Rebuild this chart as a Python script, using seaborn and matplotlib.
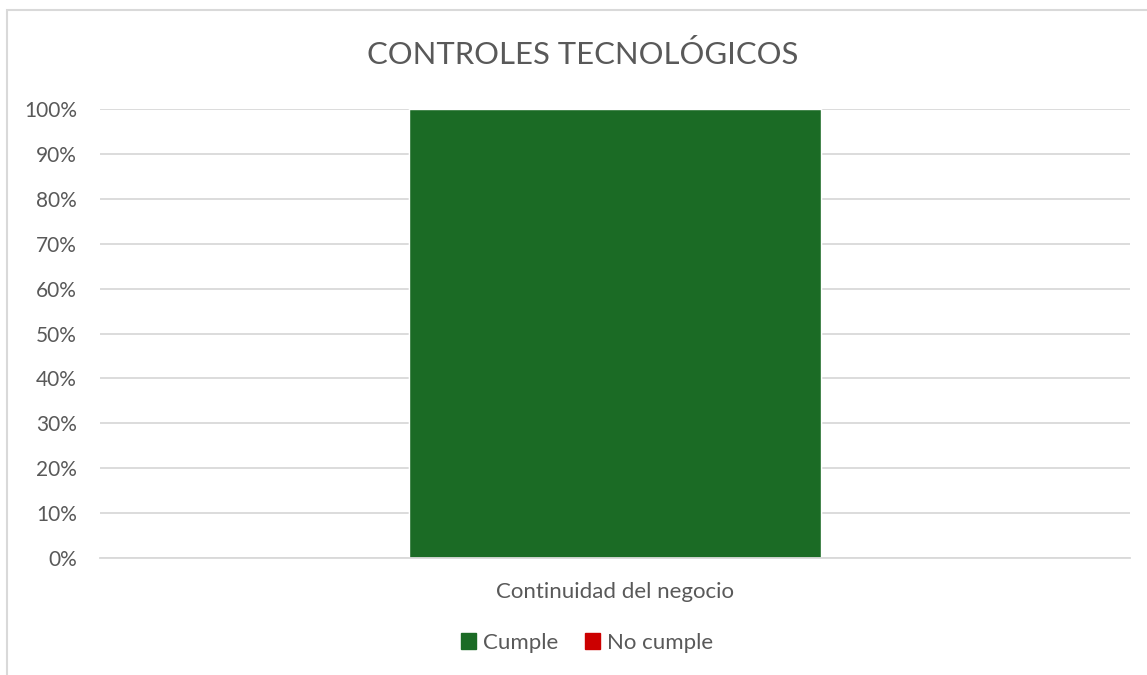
import seaborn as sns
import matplotlib.pyplot as plt
import pandas as pd
from matplotlib.patches import Rectangle, Patch
from matplotlib.ticker import PercentFormatter

# datos
categorias = ['Continuidad del negocio']
cumple = [1.0]
no_cumple = [0.0]

sns.set_style("white")
plt.rcParams['font.family'] = ['Lato', 'DejaVu Sans']

df = pd.DataFrame({'categoria': categorias, 'cumple': cumple, 'no_cumple': no_cumple})
df['total'] = df['cumple'] + df['no_cumple']

verde = '#1b6b25'
rojo = '#cc0000'
gris = '#595959'

fig = plt.figure(figsize=(11.47, 6.75), dpi=100)
ax = fig.add_axes([100 / 1147, 1 - 558 / 675, 1030 / 1147, 449 / 675])

# barra apilada: total (no cumple) debajo y cumple encima
sns.barplot(data=df, x='categoria', y='total', color=rojo, width=0.4, ax=ax, saturation=1)
sns.barplot(data=df, x='categoria', y='cumple', color=verde, width=0.4, ax=ax, saturation=1)

ax.set_xlim(-0.5, 0.5)
ax.set_ylim(0, 1)
ax.set_yticks([i / 10 for i in range(11)])
ax.yaxis.set_major_formatter(PercentFormatter(1.0, decimals=0))
ax.grid(axis='y', color='#d9d9d9', linewidth=1.3)
ax.set_axisbelow(True)
for s in ['top', 'right', 'left']:
    ax.spines[s].set_visible(False)
ax.spines['bottom'].set_color('#d9d9d9')
ax.spines['bottom'].set_linewidth(1.3)
ax.tick_params(axis='y', length=0, labelsize=15, colors=gris, pad=16.5)
ax.tick_params(axis='x', length=0, labelsize=16, colors=gris, pad=17)
ax.set_xlabel('')
ax.set_ylabel('')

fig.text(583 / 1147, 1 - 55 / 675, 'CONTROLES TECNOLÓGICOS', ha='center', va='center',
         fontsize=22.3, color=gris)

handles = [Patch(color=verde, label='Cumple'), Patch(color=rojo, label='No cumple')]
fig.legend(handles=handles, loc='center', bbox_to_anchor=(587 / 1147, 1 - 643 / 675),
           ncol=2, frameon=False, fontsize=16, handlelength=0.7, handleheight=0.7,
           handletextpad=0.3, columnspacing=1.2, labelcolor=gris)

# borde del área del gráfico
fig.patches.append(Rectangle((7 / 1147, -0.1), 1.2, 1 - 10 / 675 + 0.1,
                             transform=fig.transFigure, fill=False,
                             edgecolor='#d9d9d9', linewidth=1.5))

plt.savefig('out.png', dpi=100)
